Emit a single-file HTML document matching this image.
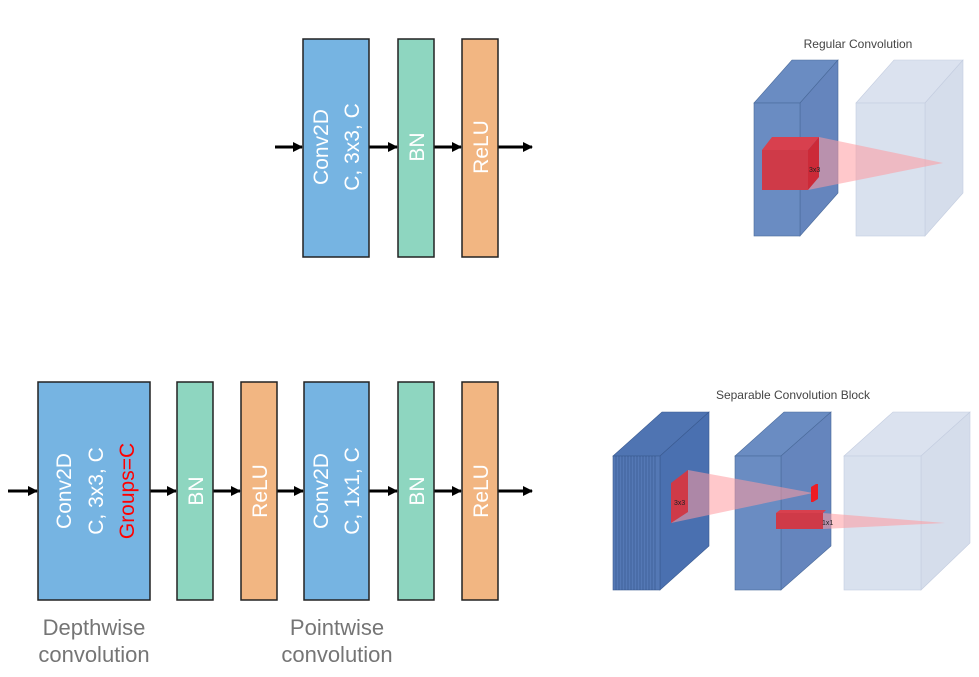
<!DOCTYPE html>
<html><head><meta charset="utf-8"><style>
html,body{margin:0;padding:0;background:#fff;width:979px;height:677px;overflow:hidden}
svg{display:block}
text{font-family:"Liberation Sans","DejaVu Sans",sans-serif}
</style></head><body>
<svg width="979" height="677" viewBox="0 0 979 677">
<defs><marker id="ah" markerWidth="10" markerHeight="10" refX="9" refY="5" orient="auto" markerUnits="userSpaceOnUse"><path d="M0,0 L10,5 L0,10 z" fill="#000"/></marker></defs>
<g stroke="#000" stroke-width="3">
<line x1="275" y1="147" x2="302" y2="147" marker-end="url(#ah)"/>
<line x1="369" y1="147" x2="397" y2="147" marker-end="url(#ah)"/>
<line x1="434" y1="147" x2="461" y2="147" marker-end="url(#ah)"/>
<line x1="498" y1="147" x2="532" y2="147" marker-end="url(#ah)"/>
<line x1="8" y1="491" x2="37" y2="491" marker-end="url(#ah)"/>
<line x1="150" y1="491" x2="176" y2="491" marker-end="url(#ah)"/>
<line x1="213" y1="491" x2="240" y2="491" marker-end="url(#ah)"/>
<line x1="277" y1="491" x2="303" y2="491" marker-end="url(#ah)"/>
<line x1="369" y1="491" x2="397" y2="491" marker-end="url(#ah)"/>
<line x1="434" y1="491" x2="461" y2="491" marker-end="url(#ah)"/>
<line x1="498" y1="491" x2="532" y2="491" marker-end="url(#ah)"/>
</g>
<g stroke="#222" stroke-width="1.5" font-size="21" fill="#fff">
<g><rect x="303" y="39" width="66" height="218" fill="#76b4e2"/>
<text transform="translate(328,147) rotate(-90)" text-anchor="middle" stroke="none" fill="#fff">Conv2D</text>
<text transform="translate(359,147) rotate(-90)" text-anchor="middle" stroke="none" fill="#fff">C, 3x3, C</text></g>
<g><rect x="398" y="39" width="36" height="218" fill="#8ed6c0"/>
<text transform="translate(424,147) rotate(-90)" text-anchor="middle" stroke="none" fill="#fff">BN</text></g>
<g><rect x="462" y="39" width="36" height="218" fill="#f2b682"/>
<text transform="translate(488,147) rotate(-90)" text-anchor="middle" stroke="none" fill="#fff">ReLU</text></g>

<g><rect x="38" y="382" width="112" height="218" fill="#76b4e2"/>
<text transform="translate(71,491) rotate(-90)" text-anchor="middle" stroke="none" fill="#fff">Conv2D</text>
<text transform="translate(103,491) rotate(-90)" text-anchor="middle" stroke="none" fill="#fff">C, 3x3, C</text>
<text transform="translate(134,491) rotate(-90)" text-anchor="middle" stroke="none" fill="#f00">Groups=C</text></g>
<g><rect x="177" y="382" width="36" height="218" fill="#8ed6c0"/>
<text transform="translate(203,491) rotate(-90)" text-anchor="middle" stroke="none" fill="#fff">BN</text></g>
<g><rect x="241" y="382" width="36" height="218" fill="#f2b682"/>
<text transform="translate(267,491) rotate(-90)" text-anchor="middle" stroke="none" fill="#fff">ReLU</text></g>
<g><rect x="304" y="382" width="65" height="218" fill="#76b4e2"/>
<text transform="translate(328,491) rotate(-90)" text-anchor="middle" stroke="none" fill="#fff">Conv2D</text>
<text transform="translate(359,491) rotate(-90)" text-anchor="middle" stroke="none" fill="#fff">C, 1x1, C</text></g>
<g><rect x="398" y="382" width="36" height="218" fill="#8ed6c0"/>
<text transform="translate(424,491) rotate(-90)" text-anchor="middle" stroke="none" fill="#fff">BN</text></g>
<g><rect x="462" y="382" width="36" height="218" fill="#f2b682"/>
<text transform="translate(488,491) rotate(-90)" text-anchor="middle" stroke="none" fill="#fff">ReLU</text></g>
</g>
<g font-size="22" fill="#757575" text-anchor="middle">
<text x="94" y="635">Depthwise</text>
<text x="94" y="662">convolution</text>
<text x="337" y="635">Pointwise</text>
<text x="337" y="662">convolution</text>
</g>

<g>
<text x="858" y="48" font-size="12" fill="#444" text-anchor="middle">Regular Convolution</text>
<g stroke="#4a6a9a" stroke-width="0.6">
<polygon points="754,103 792,60 838,60 800,103" fill="#6a8cc2"/>
<polygon points="800,103 838,60 838,193 800,236" fill="#6585bd"/>
<rect x="754" y="103" width="46" height="133" fill="#6a8cc2"/>
</g>
<g stroke="#c4cde0" stroke-width="0.6">
<polygon points="856,103 894,60 963,60 925,103" fill="#dbe2ef"/>
<polygon points="925,103 963,60 963,193 925,236" fill="#d5ddeb"/>
<rect x="856" y="103" width="69" height="133" fill="#d9e1ee"/>
</g>
<polygon points="819,137 808,190 943,163" fill="#ff9aa0" opacity="0.55"/>
<polygon points="772,137 819,137 808,150 762,150" fill="#d8404e"/>
<polygon points="808,150 819,137 819,177 808,190" fill="#cc2a38"/>
<rect x="762" y="150" width="46" height="40" fill="#cf3a48"/>
<text x="809" y="172" font-size="7" fill="#222">3x3</text>
</g>

<g>
<text x="793" y="399" font-size="12" fill="#444" text-anchor="middle">Separable Convolution Block</text>
<g stroke="#3a5a90" stroke-width="0.6">
<polygon points="613,456 662,412 709,412 660,456" fill="#4f74b2"/>
<polygon points="660,456 709,412 709,546 660,590" fill="#4a70b0"/>
<rect x="613" y="456" width="47" height="134" fill="#5478b5"/>
<g stroke="#2e4c80" stroke-width="0.5">
<line x1="616" y1="456" x2="616" y2="590"/><line x1="619" y1="456" x2="619" y2="590"/><line x1="622" y1="456" x2="622" y2="590"/><line x1="625" y1="456" x2="625" y2="590"/><line x1="628" y1="456" x2="628" y2="590"/><line x1="631" y1="456" x2="631" y2="590"/><line x1="634" y1="456" x2="634" y2="590"/><line x1="637" y1="456" x2="637" y2="590"/><line x1="640" y1="456" x2="640" y2="590"/><line x1="643" y1="456" x2="643" y2="590"/><line x1="646" y1="456" x2="646" y2="590"/><line x1="649" y1="456" x2="649" y2="590"/><line x1="652" y1="456" x2="652" y2="590"/><line x1="655" y1="456" x2="655" y2="590"/>
</g>
</g>
<g stroke="#4a6a9a" stroke-width="0.6">
<polygon points="735,456 784,412 831,412 781,456" fill="#6a8cc2"/>
<polygon points="781,456 831,412 831,546 781,590" fill="#6585bd"/>
<rect x="735" y="456" width="46" height="134" fill="#6a8cc2"/>
</g>
<g stroke="#c4cde0" stroke-width="0.6">
<polygon points="844,456 893,412 970,412 921,456" fill="#dbe2ef"/>
<polygon points="921,456 970,412 970,543 921,590" fill="#d5ddeb"/>
<rect x="844" y="456" width="77" height="134" fill="#d9e1ee"/>
</g>
<polygon points="688,470 671,523 813,493" fill="#ff9aa0" opacity="0.55"/>
<polygon points="671,483 688,470 688,512 671,523" fill="#cf3a48"/>
<text x="674" y="505" font-size="7" fill="#222">3x3</text>
<polygon points="811,487 816,484 818,484 818,499 813,502 811,502" fill="#ee1c24"/>
<polygon points="823,513 823,529 945,523" fill="#ff9aa0" opacity="0.55"/>
<polygon points="776,513 780,510 826,510 823,513" fill="#d8404e"/>
<rect x="776" y="513" width="47" height="16" fill="#cf3a48"/>
<text x="822" y="525" font-size="7" fill="#222">1x1</text>
</g>
</svg>
</body></html>
